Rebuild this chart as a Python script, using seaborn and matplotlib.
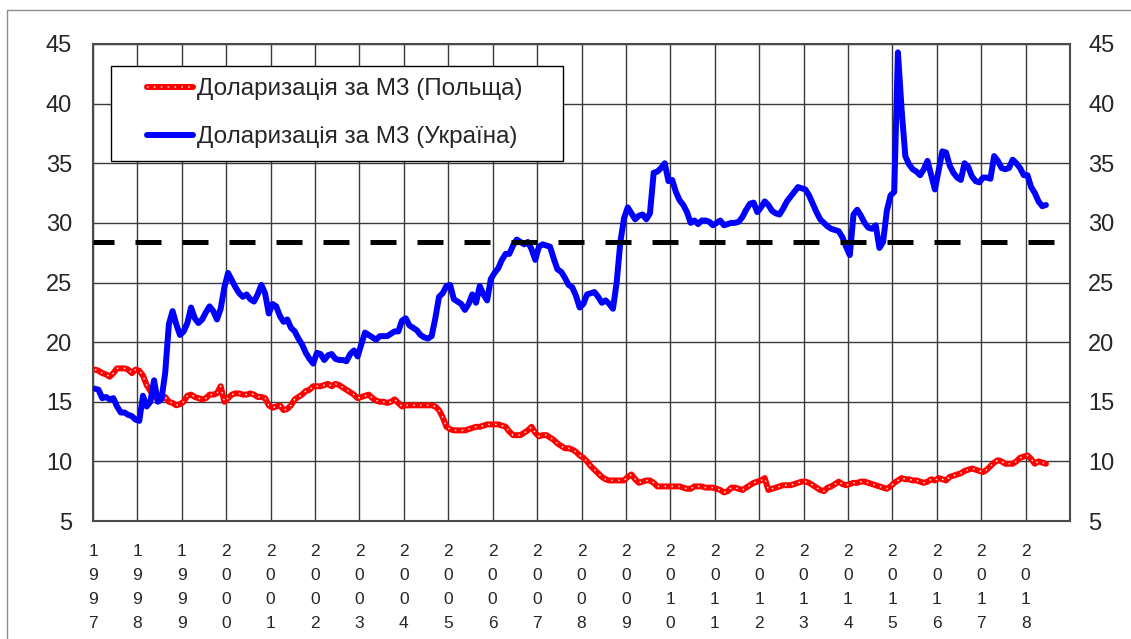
import numpy as np
import pandas as pd
import matplotlib
matplotlib.use("Agg")
import matplotlib.pyplot as plt
import seaborn as sns
from matplotlib.lines import Line2D
from matplotlib.legend_handler import HandlerLine2D, HandlerTuple

# ---------------- data (monthly, Jan 1997 - Jun 2018) ----------------
years = list(range(1997, 2019))
series_labels = ["Доларизація за М3 (Польща)", "Доларизація за М3 (Україна)"]
y_ticks = [5, 10, 15, 20, 25, 30, 35, 40, 45]
threshold = 28.4

poland = [
    17.7, 17.6, 17.4, 17.3, 17.1, 17.4, 17.8, 17.8, 17.8, 17.7, 17.4, 17.7,  # 1997
    17.6, 17.2, 16.4, 15.9, 15.5, 15.2, 15.3, 15.4, 15.0, 14.9, 14.7, 14.8,  # 1998
    15.0, 15.5, 15.6, 15.4, 15.3, 15.2, 15.3, 15.6, 15.6, 15.7, 16.3, 15.0,  # 1999
    15.3, 15.6, 15.7, 15.7, 15.6, 15.6, 15.7, 15.6, 15.4, 15.4, 15.3, 14.7,  # 2000
    14.5, 14.6, 14.7, 14.3, 14.4, 14.7, 15.2, 15.4, 15.6, 15.9, 16.0, 16.3,  # 2001
    16.3, 16.3, 16.4, 16.5, 16.3, 16.5, 16.4, 16.2, 16.0, 15.8, 15.6, 15.3,  # 2002
    15.4, 15.5, 15.6, 15.3, 15.1, 15.0, 15.0, 14.9, 15.0, 15.2, 14.9, 14.6,  # 2003
    14.7, 14.7, 14.7, 14.7, 14.7, 14.7, 14.7, 14.7, 14.6, 14.3, 13.7, 12.9,  # 2004
    12.7, 12.6, 12.6, 12.6, 12.6, 12.7, 12.8, 12.9, 12.9, 13.0, 13.1, 13.1,  # 2005
    13.1, 13.1, 13.0, 12.9, 12.5, 12.2, 12.2, 12.2, 12.4, 12.6, 12.9, 12.4,  # 2006
    12.1, 12.2, 12.2, 12.0, 11.8, 11.5, 11.3, 11.1, 11.1, 11.0, 10.8, 10.5,  # 2007
    10.3, 10.0, 9.6, 9.3, 9.0, 8.7, 8.5, 8.4, 8.4, 8.4, 8.4, 8.4,            # 2008
    8.7, 8.9, 8.5, 8.2, 8.3, 8.4, 8.4, 8.2, 7.9, 7.9, 7.9, 7.9,              # 2009
    7.9, 7.9, 7.9, 7.8, 7.7, 7.7, 7.9, 7.9, 7.9, 7.8, 7.8, 7.8,              # 2010
    7.7, 7.6, 7.4, 7.5, 7.8, 7.8, 7.7, 7.6, 7.8, 8.0, 8.2, 8.3,              # 2011
    8.4, 8.6, 7.6, 7.7, 7.8, 7.9, 8.0, 8.0, 8.0, 8.1, 8.2, 8.3,              # 2012
    8.3, 8.2, 8.0, 7.8, 7.6, 7.5, 7.8, 7.9, 8.1, 8.3, 8.1, 8.0,              # 2013
    8.1, 8.2, 8.2, 8.3, 8.3, 8.2, 8.1, 8.0, 7.9, 7.8, 7.7, 7.9,              # 2014
    8.2, 8.4, 8.6, 8.5, 8.5, 8.4, 8.4, 8.3, 8.2, 8.3, 8.5, 8.4,              # 2015
    8.6, 8.5, 8.4, 8.7, 8.8, 8.9, 9.0, 9.2, 9.3, 9.4, 9.3, 9.2,              # 2016
    9.1, 9.3, 9.6, 9.9, 10.1, 10.0, 9.8, 9.8, 9.8, 10.0, 10.3, 10.4,         # 2017
    10.5, 10.2, 9.8, 10.0, 9.9, 9.8,                                         # 2018
]

ukraine = [
    16.1, 16.0, 15.3, 15.4, 15.2, 15.3, 14.6, 14.1, 14.1, 13.9, 13.8, 13.5,  # 1997
    13.4, 15.5, 14.6, 15.0, 16.8, 15.0, 15.2, 17.4, 21.5, 22.6, 21.5, 20.6,  # 1998
    20.9, 21.6, 22.9, 22.0, 21.6, 21.9, 22.5, 23.0, 22.6, 21.9, 22.8, 24.6,  # 1999
    25.8, 25.2, 24.6, 24.1, 23.8, 24.0, 23.6, 23.4, 24.0, 24.8, 24.1, 22.4,  # 2000
    23.2, 23.0, 22.2, 21.7, 21.9, 21.2, 20.9, 20.3, 19.8, 19.1, 18.6, 18.2,  # 2001
    19.1, 19.0, 18.5, 18.9, 19.0, 18.6, 18.5, 18.5, 18.4, 19.0, 19.3, 18.8,  # 2002
    19.8, 20.8, 20.6, 20.4, 20.2, 20.5, 20.5, 20.5, 20.7, 20.9, 20.9, 21.8,  # 2003
    22.0, 21.4, 21.2, 21.0, 20.6, 20.4, 20.3, 20.5, 22.0, 23.8, 24.1, 24.7,  # 2004
    24.8, 23.6, 23.4, 23.2, 22.7, 23.2, 24.0, 23.3, 24.7, 24.0, 23.5, 25.3,  # 2005
    25.8, 26.2, 26.9, 27.4, 27.4, 28.1, 28.6, 28.4, 28.2, 28.4, 27.8, 26.9,  # 2006
    28.0, 28.2, 28.1, 28.0, 27.0, 26.1, 25.9, 25.4, 24.8, 24.6, 23.9, 22.9,  # 2007
    23.2, 24.0, 24.1, 24.2, 23.8, 23.3, 23.5, 23.2, 22.8, 25.0, 28.4, 30.4,  # 2008
    31.3, 30.8, 30.3, 30.6, 30.7, 30.3, 30.8, 34.2, 34.3, 34.6, 35.0, 33.5,  # 2009
    33.6, 32.6, 31.9, 31.5, 30.9, 30.0, 30.2, 29.9, 30.2, 30.2, 30.1, 29.8,  # 2010
    30.0, 30.2, 29.8, 29.9, 30.0, 30.0, 30.1, 30.5, 31.1, 31.6, 31.7, 30.9,  # 2011
    31.3, 31.8, 31.5, 31.0, 30.8, 30.7, 31.2, 31.8, 32.2, 32.6, 33.0, 32.9,  # 2012
    32.8, 32.3, 31.6, 30.9, 30.3, 30.0, 29.7, 29.5, 29.4, 29.3, 28.8, 28.0,  # 2013
    27.3, 30.7, 31.1, 30.6, 30.0, 29.6, 29.5, 29.8, 27.9, 28.4, 31.0, 32.3,  # 2014
    32.6, 44.3, 39.5, 35.6, 34.9, 34.5, 34.3, 34.0, 34.5, 35.2, 34.0, 32.8,  # 2015
    34.4, 36.0, 35.9, 34.8, 34.2, 33.8, 33.6, 35.0, 34.7, 33.9, 33.5, 33.4,  # 2016
    33.8, 33.8, 33.7, 35.6, 35.2, 34.6, 34.5, 34.6, 35.3, 35.0, 34.6, 34.0,  # 2017
    34.0, 33.0, 32.5, 31.8, 31.4, 31.5,                                      # 2018
]

n_axis_months = 12 * len(years)          # category axis Jan 1997 .. Dec 2018
df = pd.DataFrame({
    "month": pd.period_range("1997-01", periods=len(ukraine), freq="M").astype(str),
    "pos": np.arange(len(ukraine)) + 0.5,
    "poland": poland,
    "ukraine": ukraine,
})

# ---------------- style ----------------
sns.set_style("white")
plt.rcParams["font.family"] = ["Liberation Sans", "DejaVu Sans"]

W, H = 1131, 639
fig = plt.figure(figsize=(W / 100, H / 100), dpi=100)
ax = fig.add_axes([93 / W, 118 / H, 977 / W, 477 / H])

RED = "#FF0000"
BLUE = "#0000FF"
LW = 4.3

# threshold line
ax.axhline(threshold, color="black", lw=3.6, linestyle=(1.0, (5.2, 4.2)), zorder=5)

# Poland: red line with white dots
sns.lineplot(data=df, x="pos", y="poland", ax=ax, color=RED, lw=LW,
             estimator=None, sort=False, solid_capstyle="round",
             solid_joinstyle="round", zorder=3)
sns.lineplot(data=df, x="pos", y="poland", ax=ax, color="white", lw=1.1,
             estimator=None, sort=False, linestyle=(0, (1, 3.5)), alpha=0.9,
             zorder=3.1)
# Ukraine: blue line
sns.lineplot(data=df, x="pos", y="ukraine", ax=ax, color=BLUE, lw=LW,
             estimator=None, sort=False, solid_capstyle="round",
             solid_joinstyle="round", zorder=4)

# ---------------- axes ----------------
ax.set_xlim(0, n_axis_months)
ax.set_ylim(y_ticks[0], y_ticks[-1])
ax.set_xlabel("")
ax.set_ylabel("")
ax.set_xticks([12 * k for k in range(len(years))])
ax.set_xticklabels(["\n".join(str(y)) for y in years], fontsize=12.5,
                   linespacing=1.74)
ax.set_yticks(y_ticks)
ax.set_yticklabels([str(v) for v in y_ticks], fontsize=17)
ax.tick_params(axis="x", length=0, pad=16.5)
ax.tick_params(axis="y", length=0, pad=15)
ax.grid(True, color="#3a3a3a", lw=1.0)
ax.set_axisbelow(True)
for s in ax.spines.values():
    s.set_color("#4a4a4a")
    s.set_linewidth(1.5)

sec = ax.secondary_yaxis("right")
sec.set_yticks(y_ticks)
sec.set_yticklabels([str(v) for v in y_ticks], fontsize=17)
sec.tick_params(length=0, pad=13)
sec.spines["right"].set_visible(False)


# ---------------- legend ----------------
class OffsetHandler(HandlerLine2D):
    def __init__(self, frac, **kw):
        super().__init__(**kw)
        self.frac = frac

    def get_xdata(self, legend, xdescent, ydescent, width, height, fontsize):
        x = np.array([-xdescent + width * self.frac, -xdescent + width])
        return x, x


red_h = Line2D([], [], color=RED, lw=LW, solid_capstyle="round")
dot_h = Line2D([], [], color="white", lw=1.1, linestyle=(0, (1, 3.5)), alpha=0.9)
blue_h = Line2D([], [], color=BLUE, lw=LW, solid_capstyle="round")
FRAC = 0.34
hm = {red_h: OffsetHandler(FRAC), dot_h: OffsetHandler(FRAC),
      blue_h: OffsetHandler(FRAC), tuple: HandlerTuple(ndivide=1, pad=0)}

x0 = (111 - 93) / 977
x1 = (563 - 93) / 977
ytop = (521 - 66) / 477
ybot = (521 - 161) / 477
leg = ax.legend([(red_h, dot_h), blue_h], series_labels, handler_map=hm,
                loc="upper left", mode="expand",
                bbox_to_anchor=(x0, ybot, x1 - x0, ytop - ybot),
                borderaxespad=0, fontsize=17.5, frameon=True, fancybox=False,
                edgecolor="black", framealpha=1, borderpad=0.51,
                labelspacing=1.07, handlelength=2.86, handletextpad=0.16)
leg.get_frame().set_linewidth(1.0)
leg.set_zorder(10)

# outer chart-area frame (only left and top edges fall inside the image)
fig.add_artist(Line2D([7 / W, 7 / W], [0, 1 - 10 / H], transform=fig.transFigure,
                      color="#8c8c8c", lw=1.0))
fig.add_artist(Line2D([7 / W, 1], [1 - 10 / H, 1 - 10 / H], transform=fig.transFigure,
                      color="#8c8c8c", lw=1.0))

fig.savefig("out.png", dpi=100, facecolor="white")
